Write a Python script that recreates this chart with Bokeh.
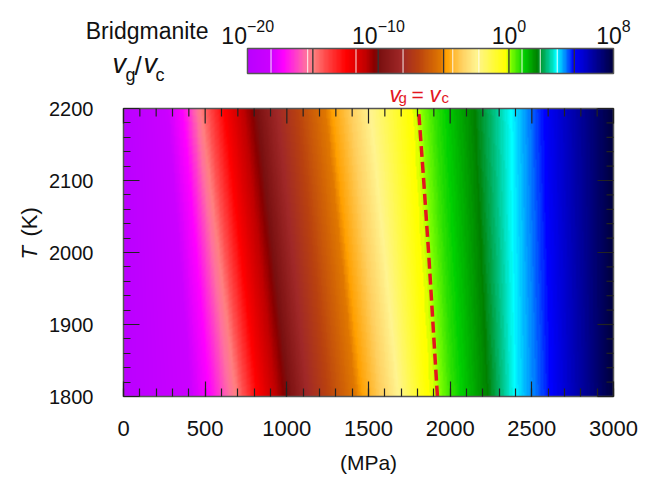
import numpy as np
from bokeh.plotting import figure
from bokeh.models import LinearColorMapper, Label, SingleIntervalTicker, LinearAxis, Range1d
from bokeh.embed import file_html
from bokeh.resources import INLINE

# ---------------- data ----------------
# log10(vg/vc) levels and the pressure (MPa) where each level is reached,
# at the bottom (1800 K) and top (2200 K) of the map
levels    = [-20, -18.5, -17.3, -15.0, -12.5, -10.0, -8.2, -4.7, -2.5, -0.3, 0.0, 0.8, 2.2, 3.7, 5.0, 8.0]
p_at_1800 = [0, 385, 522, 686, 818, 1002, 1125, 1470, 1684, 1849, 1920, 2012, 2235, 2400, 2625, 3000]
p_at_2200 = [0, 245, 359, 471, 613, 808, 941, 1286, 1512, 1745, 1806, 1910, 2155, 2380, 2584, 3000]
p_limits = [0, 3000]
t_limits = [1800, 2200]
p_step_major, p_step_minor = 500, 100
t_step_major, t_step_minor = 100, 20

# vg = vc boundary (dashed line)
line_T = [1800, 1900, 2000, 2100, 2200]
line_P = [1922, 1895, 1868, 1838, 1806]

# colour-bar range and ticks (log10 values) with their exponents
cbar_range = [-20, 8]
cbar_ticks = [-20, -10, 0, 8]
cbar_exps = ["\u221220", "\u221210", "0", "8"]

# ---------------- colour map (style) ----------------
cm_vals = [-20, -18.3, -17.3, -15.6, -15.0, -14.2, -12.5, -11.0, -10.3, -9.9, -8.2, -7.0,
           -5.2, -4.8, -3.6, -2.5, -0.2, 0.2, 1.2, 2.2, 3.0, 3.7, 4.4, 5.0, 6.0, 8.0]
cm_cols = ["#bb00ff", "#cc00ff", "#ff00ff", "#ff70a0", "#ff8080", "#ff5050", "#ff0000",
           "#c00000", "#880000", "#7a1010", "#a02828", "#b84010", "#e07800", "#ffa000",
           "#ffd060", "#fff490", "#ffff00", "#80ff00", "#00d000", "#008000", "#00c080",
           "#00ffff", "#0080ff", "#0000ff", "#0000c0", "#000040"]


def hex2rgb(h):
    return [int(h[i:i + 2], 16) for i in (1, 3, 5)]


rgb = np.array([hex2rgb(c) for c in cm_cols], dtype=float)
vv = np.linspace(cbar_range[0], cbar_range[1], 281)
pal = []
for v in vv:
    r = np.interp(v, cm_vals, rgb[:, 0])
    g = np.interp(v, cm_vals, rgb[:, 1])
    b = np.interp(v, cm_vals, rgb[:, 2])
    pal.append("#%02x%02x%02x" % (int(round(r)), int(round(g)), int(round(b))))
cmap = LinearColorMapper(palette=pal, low=cbar_range[0], high=cbar_range[1])

# ---------------- field for the image ----------------
nP, nT = 600, 300
P_grid = np.linspace(p_limits[0], p_limits[1], nP)
T_grid = np.linspace(t_limits[0], t_limits[1], nT)
p18 = np.array(p_at_1800, dtype=float)
p22 = np.array(p_at_2200, dtype=float)
field = np.empty((nT, nP))
for i, T in enumerate(T_grid):
    w = (T - t_limits[0]) / (t_limits[1] - t_limits[0])
    pk = p18 * (1 - w) + p22 * w
    field[i] = np.interp(P_grid, pk, levels)

FONT = "Liberation Sans"
INK = "#111111"
RED = "#e3161e"

# layout geometry (page pixels): map frame 123..613 x 108..396
FX0, FX1, FY0, FY1 = 123, 613, 108, 396
W, H = 645, 477
XPP = (p_limits[1] - p_limits[0]) / (FX1 - FX0)   # MPa per pixel
YPP = (t_limits[1] - t_limits[0]) / (FY1 - FY0)   # K per pixel


def mx(px):
    return p_limits[0] + (px - FX0) * XPP


def my(py):
    return t_limits[1] - (py - FY0) * YPP


p = figure(width=W, height=H, title=None,
           x_range=Range1d(mx(0), mx(W)), y_range=Range1d(my(H), my(0)),
           x_axis_type=None, y_axis_type=None,
           output_backend="svg", toolbar_location=None,
           min_border_left=0, min_border_right=0, min_border_top=0, min_border_bottom=0)
p.xgrid.visible = False
p.ygrid.visible = False
p.outline_line_color = None
p.background_fill_color = "white"
p.border_fill_color = "white"

# heat map
p.image(image=[field], x=p_limits[0], y=t_limits[0], dw=p_limits[1] - p_limits[0],
        dh=t_limits[1] - t_limits[0], color_mapper=cmap)
p.line(line_P, line_T, line_color=RED, line_width=3.5, line_dash="11 5")
p.quad(left=[p_limits[0]], right=[p_limits[1]], bottom=[t_limits[0]], top=[t_limits[1]],
       fill_color=None, line_color="#555555", line_width=1.5)


def make_axis(interval, fixed, bounds, major, minor, label_size, standoff):
    ax = LinearAxis(ticker=SingleIntervalTicker(interval=interval, num_minor_ticks=5))
    ax.fixed_location = fixed
    ax.bounds = tuple(bounds)
    ax.major_tick_in = major
    ax.major_tick_out = 0
    ax.minor_tick_in = minor
    ax.minor_tick_out = 0
    ax.major_tick_line_color = "#222222"
    ax.minor_tick_line_color = "#222222"
    ax.major_tick_line_width = 1.2
    ax.minor_tick_line_width = 1.2
    ax.axis_line_color = None
    ax.major_label_text_font = FONT
    ax.major_label_text_font_size = label_size
    ax.major_label_text_color = INK
    ax.major_label_standoff = standoff
    return ax


p.add_layout(make_axis(p_step_major, t_limits[0], p_limits, 15, 8, "22px", 24), "below")
p.add_layout(make_axis(t_step_major, p_limits[0], t_limits, 16, 7, "20px", 30), "left")

# mirrored ticks on the top and right edges
px_all = np.arange(p_limits[0], p_limits[1] + 1, p_step_minor)
tx_all = np.arange(t_limits[0], t_limits[1] + 1, t_step_minor)
top_len = [15 if v % p_step_major == 0 else 8 for v in px_all]
right_len = [16 if v % t_step_major == 0 else 7 for v in tx_all]
p.segment(x0=px_all, y0=[t_limits[1]] * len(px_all), x1=px_all,
          y1=[t_limits[1] - L * YPP for L in top_len], line_color="#222222", line_width=1.2)
p.segment(x0=[p_limits[1]] * len(tx_all), y0=tx_all, x1=[p_limits[1] - L * XPP for L in right_len],
          y1=tx_all, line_color="#222222", line_width=1.2)

# axis titles
p.add_layout(Label(x=(p_limits[0] + p_limits[1]) / 2, y=my(462), text="(MPa)", text_align="center",
                   text_baseline="middle", text_font=FONT, text_font_size="21px", text_color=INK))
p.add_layout(Label(x=mx(29), y=my(259), text="T", angle=np.pi / 2, text_align="left",
                   text_baseline="middle", text_font=FONT, text_font_style="italic",
                   text_font_size="22px", text_color=INK))
p.add_layout(Label(x=mx(29), y=my(236), text="(K)", angle=np.pi / 2, text_align="left",
                   text_baseline="middle", text_font=FONT, text_font_size="22px", text_color=INK))

# ---------------- colour bar ----------------
CB_X0, CB_X1, CB_Y0, CB_Y1 = 247, 613, 48, 73


def cbx(v):
    return mx(CB_X0 + (v - cbar_range[0]) * (CB_X1 - CB_X0) / (cbar_range[1] - cbar_range[0]))


cb_vals = np.linspace(cbar_range[0], cbar_range[1], 560)[None, :]
p.image(image=[cb_vals], x=cbx(cbar_range[0]), y=my(CB_Y1), dw=cbx(cbar_range[1]) - cbx(cbar_range[0]),
        dh=my(CB_Y0) - my(CB_Y1), color_mapper=cmap)

dark_sep = [-15, -10, -5, 0, 5]
white_sep = [-18.2, -15.4, -11.7, -8.1, -4.3, -2.3, 1.0, 2.4, 3.7]
ws = [cbx(v) for v in white_sep]
ds = [cbx(v) for v in dark_sep]
p.segment(x0=ws, y0=[my(CB_Y1)] * len(ws), x1=ws, y1=[my(CB_Y0)] * len(ws),
          line_color="white", line_alpha=0.75, line_width=1.2)
p.segment(x0=ds, y0=[my(CB_Y1)] * len(ds), x1=ds, y1=[my(CB_Y0)] * len(ds),
          line_color="#333333", line_width=1.3)
p.quad(left=[cbx(cbar_range[0])], right=[cbx(cbar_range[1])], bottom=[my(CB_Y1)], top=[my(CB_Y0)],
       fill_color=None, line_color="#555555", line_width=1.5)

fs10, fsexp = 23, 16
for v, e in zip(cbar_ticks, cbar_exps):
    w10 = 2 * 0.556 * fs10
    wexp = len(e) * 0.556 * fsexp
    off = (w10 - wexp) / 2
    p.add_layout(Label(x=cbx(v), y=my(35), text="10", x_offset=off, text_align="right",
                       text_baseline="alphabetic", text_font=FONT, text_font_size="%dpx" % fs10,
                       text_color=INK))
    p.add_layout(Label(x=cbx(v), y=my(35), text=e, x_offset=off, y_offset=10, text_align="left",
                       text_baseline="alphabetic", text_font=FONT, text_font_size="%dpx" % fsexp,
                       text_color=INK))

p.add_layout(Label(x=mx(208), y=my(30), text="Bridgmanite", text_align="right",
                   text_baseline="alphabetic", text_font=FONT, text_font_size="23px", text_color=INK))

# v_g / v_c
parts = [("v", 112, 63, "italic", 27), ("g", 125, 74, "normal", 18), ("/", 134, 65, "normal", 26),
         ("v", 143, 63, "italic", 27), ("c", 155, 74, "normal", 18)]
for t, px, py, st, fs in parts:
    p.add_layout(Label(x=mx(px), y=my(py), text=t, text_align="left", text_baseline="alphabetic",
                       text_font=FONT, text_font_style=st, text_font_size="%dpx" % fs, text_color=INK))

# v_g = v_c (red)
parts = [("v", 389, 94, "italic", 22), ("g", 398, 97, "normal", 15), ("=", 411, 94, "normal", 21),
         ("v", 429, 94, "italic", 22), ("c", 441, 97, "normal", 15)]
for t, px, py, st, fs in parts:
    p.add_layout(Label(x=mx(px), y=my(py), text=t, text_align="left", text_baseline="alphabetic",
                       text_font=FONT, text_font_style=st, text_font_size="%dpx" % fs, text_color=RED))

open("out.html", "w").write(file_html(p, INLINE))
